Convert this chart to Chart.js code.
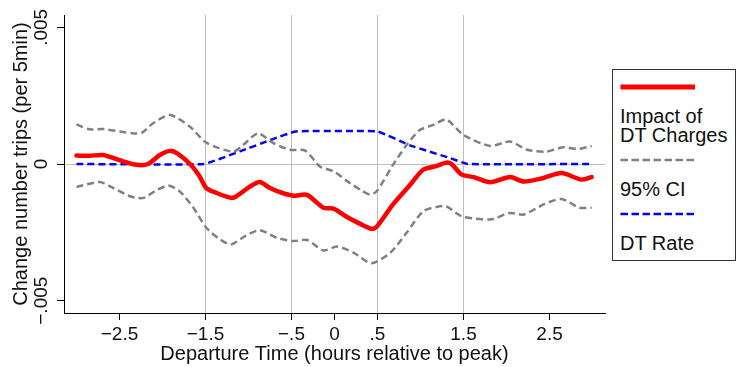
<!DOCTYPE html>
<html><head><meta charset="utf-8">
<script src="https://cdn.jsdelivr.net/npm/chart.js@4.4.0/dist/chart.umd.min.js"></script>
<style>
html,body{margin:0;padding:0;background:#fff;}
#wrap{position:relative;width:737px;height:367px;overflow:hidden;background:#fff;}
#c{position:absolute;left:0;top:0;}
#legend{position:absolute;left:612px;top:69px;}
</style></head><body>
<div id="wrap">
<canvas id="c" width="737" height="367"></canvas>
<svg id="legend" width="125" height="193" xmlns="http://www.w3.org/2000/svg" font-family="Liberation Sans, Arial, sans-serif" font-size="20" fill="#111">
<rect x="0.5" y="0.5" width="123" height="191" fill="#fff" stroke="#333" stroke-width="1"/>
<line x1="8.5" y1="18" x2="83" y2="18" stroke="#ff0000" stroke-width="5"/>
<text x="8" y="54">Impact of</text>
<text x="8" y="73">DT Charges</text>
<line x1="8.5" y1="91" x2="83" y2="91" stroke="#808080" stroke-width="2.5" stroke-dasharray="7.5 3.5"/>
<text x="8" y="127">95% CI</text>
<line x1="8.5" y1="145" x2="83" y2="145" stroke="#0000ff" stroke-width="2.5" stroke-dasharray="7.5 3.5"/>
<text x="8" y="181">DT Rate</text>
</svg>
</div>
<script>
// Impact of DT charges (point estimate)
const estTime = [-3.0,-2.85,-2.69,-2.49,-2.30,-2.17,-2.03,-1.91,-1.82,-1.68,-1.58,-1.49,-1.37,-1.20,-1.14,-0.98,-0.87,-0.75,-0.61,-0.48,-0.32,-0.13,-0.01,0.14,0.30,0.43,0.49,0.68,0.88,1.03,1.19,1.30,1.36,1.48,1.62,1.81,2.04,2.20,2.43,2.64,2.87,2.99];
const estValue = [0.00031,0.00030,0.00033,0.00013,-0.00003,0.0,0.00033,0.00048,0.00037,0.0,-0.00039,-0.00088,-0.00106,-0.00124,-0.00118,-0.00082,-0.00066,-0.00088,-0.00106,-0.00116,-0.00113,-0.00160,-0.00163,-0.00193,-0.00219,-0.00237,-0.00230,-0.00148,-0.00076,-0.00021,-0.00007,0.00005,0.0,-0.00039,-0.00048,-0.00067,-0.00048,-0.00064,-0.00051,-0.00033,-0.00057,-0.00048];
// 95% CI upper bound
const upperTime = [-3.0,-2.85,-2.69,-2.34,-2.24,-2.11,-1.91,-1.68,-1.49,-1.18,-1.06,-0.89,-0.71,-0.52,-0.34,-0.17,-0.01,0.18,0.30,0.41,0.49,0.68,0.84,0.99,1.15,1.30,1.50,1.81,2.04,2.24,2.45,2.66,2.84,2.99];
const upperValue = [0.00145,0.00127,0.00128,0.00112,0.00114,0.00149,0.00179,0.00136,0.00078,0.00045,0.00070,0.00112,0.00076,0.00052,0.00049,-0.00009,-0.00027,-0.00070,-0.00094,-0.00112,-0.00100,-0.00003,0.00070,0.00124,0.00143,0.00163,0.00106,0.00066,0.00082,0.00052,0.00045,0.00061,0.00055,0.00066];
// 95% CI lower bound
const lowerTime = [-3.0,-2.73,-2.57,-2.36,-2.22,-2.06,-1.93,-1.80,-1.64,-1.49,-1.33,-1.20,-1.04,-0.87,-0.67,-0.48,-0.32,-0.13,0.03,0.22,0.43,0.65,0.84,1.03,1.19,1.30,1.48,1.81,2.04,2.20,2.43,2.64,2.85,2.99];
const lowerValue = [-0.00084,-0.00066,-0.00088,-0.00120,-0.00124,-0.00094,-0.00079,-0.00100,-0.00160,-0.00233,-0.00276,-0.00294,-0.00264,-0.00242,-0.00270,-0.00282,-0.00278,-0.00316,-0.00302,-0.00324,-0.00363,-0.00324,-0.00251,-0.00173,-0.00157,-0.00155,-0.00191,-0.00203,-0.00179,-0.00185,-0.00148,-0.00128,-0.00160,-0.00160];
// DT rate
const rateTime = [-3.0,-1.52,-1.10,-0.71,-0.45,0.5,0.88,1.34,1.55,3.0];
const rateValue = [0,0,0.00046,0.00092,0.00119,0.00119,0.00068,0.00022,0,0];

const xTickValues = [-2.5,-1.5,-0.5,0,0.5,1.5,2.5];
const xTickLabels = ['\u22122.5','\u22121.5','\u2212.5','0','.5','1.5','2.5'];
const xGridValues = [-1.5,-0.5,0.5,1.5];
const yTickValues = [-0.005,0,0.005];
const yTickLabels = ['\u2212.005','0','.005'];

const FONT = '"Liberation Sans", Arial, sans-serif';
const pts = (t, v) => t.map((x, i) => ({x: x, y: v[i]}));

const yLabelPlugin = {
  id: 'yLabels',
  afterDraw(chart) {
    const ctx = chart.ctx, ys = chart.scales.y;
    ctx.save();
    ctx.font = '19px ' + FONT;
    ctx.fillStyle = '#111';
    ctx.textAlign = 'center';
    ctx.textBaseline = 'middle';
    yTickValues.forEach((v, i) => {
      ctx.save();
      ctx.translate(41.5, ys.getPixelForValue(v));
      ctx.rotate(-Math.PI / 2);
      ctx.fillText(yTickLabels[i], 0, 0);
      ctx.restore();
    });
    ctx.restore();
  }
};

new Chart(document.getElementById('c'), {
  type: 'line',
  data: {
    datasets: [
      {label: 'Impact of DT Charges', data: pts(estTime, estValue), borderColor: '#ff0000', borderWidth: 4.5, pointRadius: 0, tension: 0.25, borderJoinStyle: 'round', borderCapStyle: 'round'},
      {label: '95% CI', data: pts(upperTime, upperValue), borderColor: '#808080', borderWidth: 2.5, borderDash: [7, 4], pointRadius: 0, tension: 0.25},
      {label: '95% CI lower', data: pts(lowerTime, lowerValue), borderColor: '#808080', borderWidth: 2.5, borderDash: [7, 4], pointRadius: 0, tension: 0.25},
      {label: 'DT Rate', data: pts(rateTime, rateValue), borderColor: '#0000ff', borderWidth: 2.5, borderDash: [7, 4], pointRadius: 0, tension: 0.1}
    ]
  },
  options: {
    responsive: false,
    animation: false,
    devicePixelRatio: 1,
    layout: {padding: {top: 15, right: 132, left: 0, bottom: 0}},
    plugins: {legend: {display: false}, tooltip: {enabled: false}},
    scales: {
      x: {
        type: 'linear', min: -3.145, max: 3.145,
        afterBuildTicks: s => { s.ticks = xTickValues.map(v => ({value: v})); },
        afterFit: s => { s.height = 54; },
        ticks: {autoSkip: false, maxRotation: 0, minRotation: 0, padding: 3, color: '#111', font: {family: FONT, size: 19},
          callback: v => { const i = xTickValues.indexOf(v); return i >= 0 ? xTickLabels[i] : ''; }},
        grid: {color: c => (c.tick && xGridValues.includes(c.tick.value)) ? '#bebebe' : 'rgba(0,0,0,0)', tickColor: '#000', tickLength: 7, lineWidth: 1, drawTicks: true},
        border: {display: true, color: '#000', width: 1},
        title: {display: true, text: 'Departure Time (hours relative to peak)', color: '#111', font: {family: FONT, size: 20}, padding: {top: 0, bottom: 1}}
      },
      y: {
        type: 'linear', min: -0.00545, max: 0.00545,
        afterBuildTicks: s => { s.ticks = yTickValues.map(v => ({value: v})); },
        afterFit: s => { s.width = 64; },
        ticks: {display: false},
        grid: {color: c => (c.tick && c.tick.value === 0) ? '#bebebe' : 'rgba(0,0,0,0)', tickColor: '#000', tickLength: 7, lineWidth: 1, drawTicks: true},
        border: {display: true, color: '#000', width: 1},
        title: {display: true, text: 'Change number trips (per 5min)', color: '#111', font: {family: FONT, size: 20}, padding: {top: 9, bottom: 0}}
      }
    }
  },
  plugins: [yLabelPlugin]
});
</script>
</body></html>
